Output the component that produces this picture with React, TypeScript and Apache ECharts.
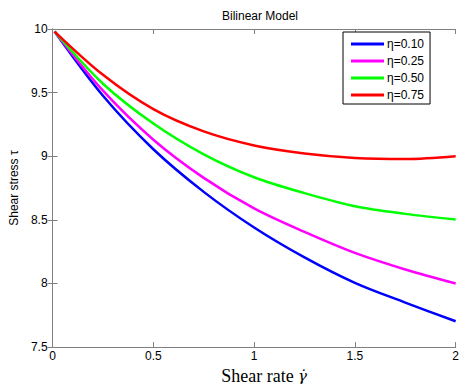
import React, { useEffect, useRef } from "react";
import * as echarts from "echarts";

const shearRate = [0.01, 0.25, 0.5, 0.75, 1.0, 1.25, 1.5, 1.75, 2.0];
const eta010 = [9.98, 9.475, 9.055, 8.72, 8.44, 8.205, 8.005, 7.85, 7.703];
const eta025 = [9.98, 9.515, 9.13, 8.83, 8.59, 8.405, 8.24, 8.11, 8.0];
const eta050 = [9.98, 9.57, 9.257, 9.015, 8.835, 8.71, 8.607, 8.547, 8.503];
const eta075 = [9.98, 9.64, 9.37, 9.195, 9.085, 9.022, 8.987, 8.978, 9.0];
const seriesNames = ["η=0.10", "η=0.25", "η=0.50", "η=0.75"];
const seriesColors = ["#0000ff", "#ff00ff", "#00ff00", "#ff0000"];
const xTicks = [0, 0.5, 1, 1.5, 2];
const yTicks = [7.5, 8, 8.5, 9, 9.5, 10];

const AXIS_COLOR = "#808080";
const SANS = "'Liberation Sans', Arial, sans-serif";
const SERIF = "'Liberation Serif', 'DejaVu Serif', serif";

export default function App() {
  const ref = useRef<HTMLDivElement>(null);
  useEffect(() => {
    if (!ref.current) return;
    const chart = echarts.init(ref.current, null, { renderer: "svg" });
    const all = [eta010, eta025, eta050, eta075];
    const boxAxis = (pos: string) => ({
      position: pos,
      axisLine: { show: true, lineStyle: { color: AXIS_COLOR, width: 1 } },
      axisTick: { show: true, inside: true, length: 5, lineStyle: { color: AXIS_COLOR } },
      axisLabel: { show: false },
      splitLine: { show: false },
    });
    chart.setOption({
      animation: false,
      backgroundColor: "#ffffff",
      title: {
        text: "Bilinear Model",
        left: 255,
        textAlign: "center",
        top: 5,
        textStyle: { fontFamily: SANS, fontSize: 12, fontWeight: "normal", color: "#000" },
      },
      legend: {
        orient: "vertical",
        left: 343,
        top: 32,
        padding: [5, 6, 2, 8],
        itemGap: 3,
        itemWidth: 33,
        itemHeight: 3,
        icon: "rect",
        borderColor: "#000",
        borderWidth: 1,
        backgroundColor: "#fff",
        textStyle: { fontFamily: SANS, fontSize: 12, color: "#000", lineHeight: 14, padding: [0, 0, 0, -2] },
        data: seriesNames,
      },
      grid: { left: 49, right: 3, top: 29, bottom: 37 },
      xAxis: [
        {
          type: "value",
          min: xTicks[0],
          max: xTicks[xTicks.length - 1],
          interval: 0.5,
          position: "bottom",
          name: "Shear rate {g|γ̇}",
          nameLocation: "middle",
          nameGap: 14,
          nameTextStyle: {
            fontFamily: SERIF,
            fontSize: 18,
            color: "#000",
            padding: [0, 0, 0, 20],
            rich: {
              g: { fontFamily: "'DejaVu Serif', serif", fontStyle: "italic", fontSize: 15, color: "#000" },
            },
          },
          axisLine: { show: true, lineStyle: { color: AXIS_COLOR, width: 1 } },
          axisTick: { show: true, inside: true, length: 5, lineStyle: { color: AXIS_COLOR } },
          axisLabel: { fontFamily: SANS, fontSize: 12, color: "#000", margin: 3 },
          splitLine: { show: false },
        },
        { type: "value", min: 0, max: 2, interval: 0.5, ...boxAxis("top") },
      ],
      yAxis: [
        {
          type: "value",
          min: yTicks[0],
          max: yTicks[yTicks.length - 1],
          interval: 0.5,
          position: "left",
          name: "Shear stress τ",
          nameLocation: "middle",
          nameGap: 28,
          nameTextStyle: { fontFamily: SANS, fontSize: 12, color: "#000" },
          axisLine: { show: true, lineStyle: { color: AXIS_COLOR, width: 1 } },
          axisTick: { show: true, inside: true, length: 5, lineStyle: { color: AXIS_COLOR } },
          axisLabel: { fontFamily: SANS, fontSize: 12, color: "#000", margin: 5 },
          splitLine: { show: false },
        },
        { type: "value", min: 7.5, max: 10, interval: 0.5, ...boxAxis("right") },
      ],
      series: all.map((vals, i) => ({
        name: seriesNames[i],
        type: "line",
        xAxisIndex: 0,
        yAxisIndex: 0,
        data: shearRate.map((x, j) => [x, vals[j]]),
        smooth: 0.33,
        showSymbol: false,
        symbol: "none",
        lineStyle: { color: seriesColors[i], width: 2.5 },
        itemStyle: { color: seriesColors[i] },
      })),
    });
    return () => chart.dispose();
  }, []);
  return (
    <div
      ref={ref}
      style={{ position: "absolute", left: 0, top: 0, width: 462, height: 390 }}
    />
  );
}
